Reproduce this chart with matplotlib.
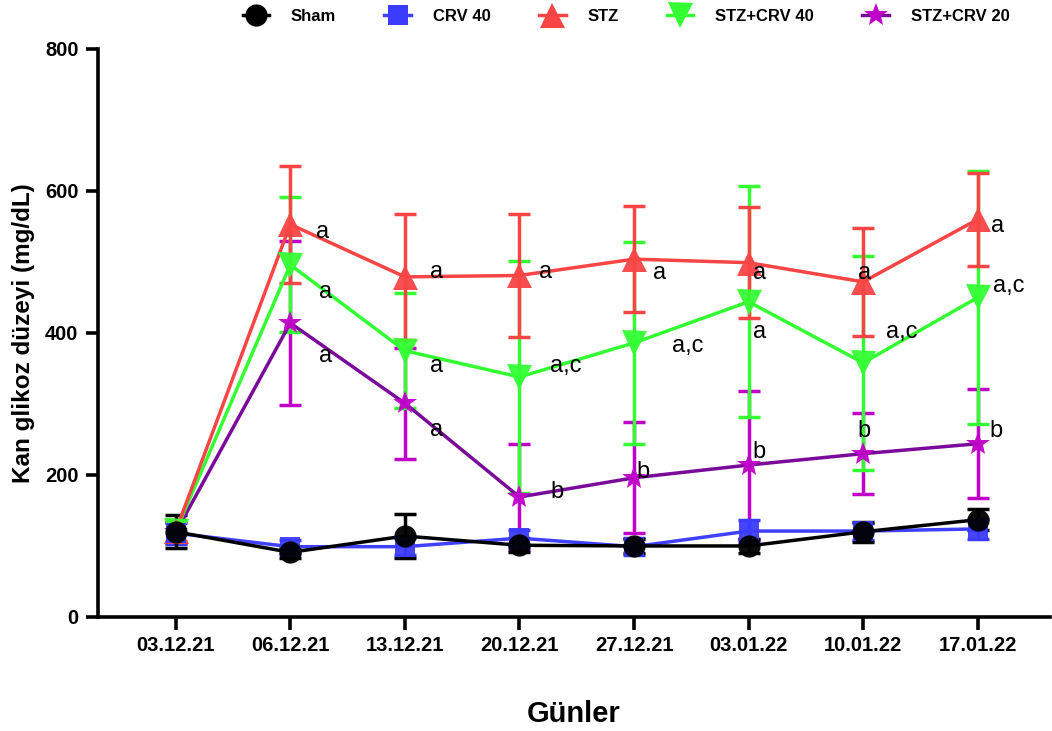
import matplotlib.pyplot as plt
from matplotlib.lines import Line2D

plt.rcParams['font.family'] = ['Liberation Sans', 'DejaVu Sans']

# -----------------------------
# data
# -----------------------------
days = ["03.12.21", "06.12.21", "13.12.21", "20.12.21",
        "27.12.21", "03.01.22", "10.01.22", "17.01.22"]

sham = [120, 91, 114, 101, 100, 100, 120, 137]
sham_err = [23, 8, 31, 10, 10, 10, 14, 15]

crv40 = [118, 99, 99, 111, 99, 121, 121, 124]
crv40_err = [15, 10, 12, 12, 12, 15, 12, 14]

stz = [121, 553, 479, 481, 504, 499, 472, 560]
stz_err = [15, 82, 89, 87, 75, 78, 76, 66]

stz_crv40 = [121, 496, 375, 338, 386, 444, 358, 450]
stz_crv40_err = [15, 95, 81, 163, 142, 163, 151, 178]

stz_crv20 = [119, 414, 301, 169, 196, 214, 230, 244]
stz_crv20_err = [15, 115, 78, 75, 78, 104, 57, 77]

# significance letters and where they sit (x index, y value)
stz_lab = ["", "a", "a", "a", "a", "a", "a", "a"]
stz_lab_xy = [(0, 0), (1.28, 542), (2.28, 486), (3.23, 486), (4.22, 485),
              (5.10, 485), (6.01, 485), (7.17, 550)]
crv40_lab = ["", "a", "a", "a,c", "a,c", "a", "a,c", "a,c"]
crv40_lab_xy = [(0, 0), (1.31, 458), (2.28, 354), (3.40, 354), (4.47, 382),
                (5.10, 401), (6.34, 401), (7.27, 466)]
crv20_lab = ["", "a", "a", "b", "b", "b", "b", "b"]
crv20_lab_xy = [(0, 0), (1.31, 368), (2.28, 263), (3.33, 176), (4.08, 204),
                (5.09, 232), (6.01, 262), (7.16, 262)]

x = list(range(len(days)))

fig = plt.figure(figsize=(10.52, 7.31), dpi=100)
ax = fig.add_axes([0.093, 0.156, 0.905, 0.777])

groups = [
    # name, values, errors, line colour, marker, marker colour, err colour, size
    ("STZ+CRV 20", stz_crv20, stz_crv20_err, "#7a0a9a", "*", "#c000c8", "#c000c8", 18),
    ("STZ+CRV 40", stz_crv40, stz_crv40_err, "#33ff33", "v", "#33ff33", "#33ff33", 18),
    ("STZ", stz, stz_err, "#f74545", "^", "#f74545", "#f74545", 18),
    ("CRV 40", crv40, crv40_err, "#4040ff", "s", "#3c3cff", "#3c3cff", 15),
    ("Sham", sham, sham_err, "black", "o", "black", "black", 16),
]

for name, vals, err, lc, mk, mc, ec, ms in groups:
    ax.errorbar(x, vals, yerr=err, fmt="none", ecolor=ec, elinewidth=2.5,
                capsize=8, capthick=2.5, zorder=2)
    ax.plot(x, vals, color=lc, lw=2.5, zorder=3)
    ax.plot(x, vals, ls="none", marker=mk, ms=ms, color=mc,
            markeredgewidth=0, alpha=0.95, zorder=4)

for labs, pos in [(stz_lab, stz_lab_xy), (crv40_lab, crv40_lab_xy),
                  (crv20_lab, crv20_lab_xy)]:
    for t, (px, py) in zip(labs, pos):
        if t:
            ax.text(px, py, t, fontsize=17, ha="center", va="center", zorder=5)

ax.set_xlim(-0.68, 7.63)
ax.set_ylim(0, 800)
ax.set_yticks([0, 200, 400, 600, 800])
ax.set_xticks(x)
ax.set_xticklabels(days)

for s in ["top", "right"]:
    ax.spines[s].set_visible(False)
for s in ["left", "bottom"]:
    ax.spines[s].set_linewidth(2.6)
ax.tick_params(width=2.6, length=9, labelsize=14.5, pad=5)
for lab in ax.get_xticklabels() + ax.get_yticklabels():
    lab.set_fontweight("bold")

ax.set_ylabel("Kan glikoz düzeyi (mg/dL)", fontsize=17.5, fontweight="bold",
              labelpad=7)
ax.set_xlabel("Günler", fontsize=21, fontweight="bold", labelpad=32)

# legend: marker with a short line through it
handles = []
for name, vals, err, lc, mk, mc, ec, ms in reversed(groups):
    handles.append(Line2D([], [], color=lc, lw=2.5, marker=mk, ms=ms,
                          markerfacecolor=mc, markeredgewidth=0))
fig.legend(handles, [g[0] for g in reversed(groups)], loc="center",
           bbox_to_anchor=(0.595, 0.978), ncol=5, frameon=False,
           prop={"weight": "bold", "size": 12}, handlelength=1.6,
           handletextpad=1.3, columnspacing=2.9)

fig.savefig("out.png", dpi=100)
